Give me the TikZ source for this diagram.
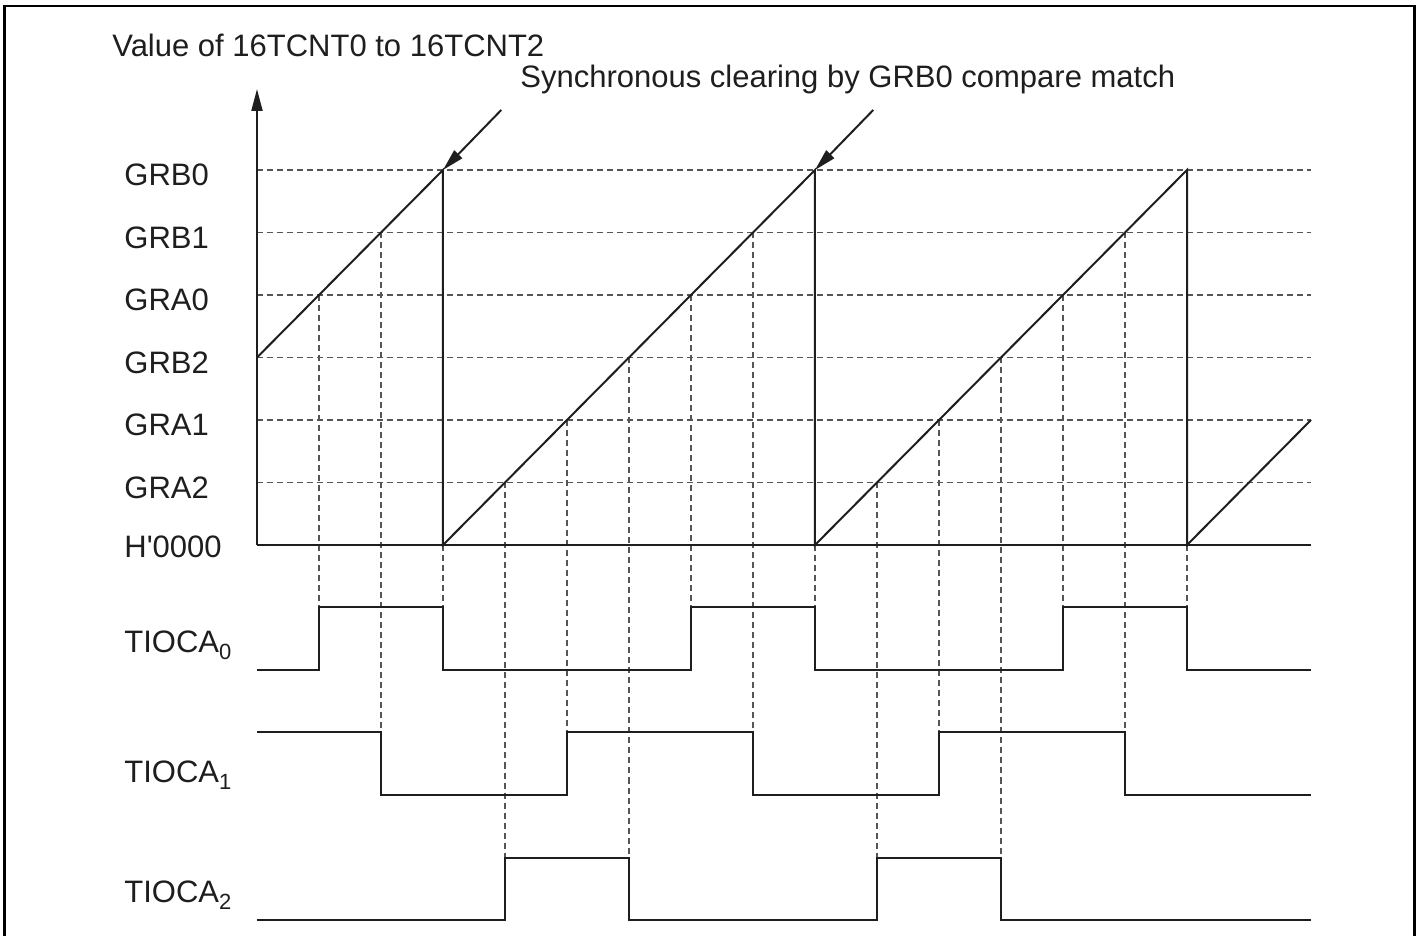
\documentclass[tikz,border=0pt]{standalone}
\usepackage{fontspec}
\setmainfont{Liberation Sans}
\usepackage{xcolor}
\usetikzlibrary{arrows.meta}
\definecolor{guidegray}{RGB}{85,85,85}
\definecolor{inkblack}{RGB}{30,30,30}
\newcommand{\pinsub}[1]{\raisebox{-3.5pt}{\fontsize{11}{12}\selectfont #1}}

\begin{document}
\begin{tikzpicture}[
        x=31pt, y=31.25pt,
        sig/.style={line width=1pt, draw=inkblack},
        guide/.style={draw=guidegray, line width=0.55pt, dash pattern=on 3pt off 2pt},
        lbl/.style={font=\fontsize{15.5}{18}\selectfont, text=inkblack,
                    inner sep=0pt, anchor=base west},
        arr/.style={-{Triangle[length=11pt,width=5.5pt]}, line width=1pt, draw=inkblack, fill=inkblack},
      ]
        \useasboundingbox (-4.145,-6.256) rectangle (18.742,8.72);
        \draw[line width=1.4pt] (-4.073,-6.5) -- (-4.073,8.624) -- (18.669,8.624) -- (18.669,-6.5);

        \node[lbl] (title) at (-2.339,7.813) {Value of 16TCNT0 to 16TCNT2};
        \node[lbl] (sync)  at (4.242,7.312) {Synchronous clearing by GRB0 compare match};

        \node[lbl] (grb0) at (-2.145,5.749) {GRB0};
        \node[lbl] (grb1) at (-2.145,4.749) {GRB1};
        \node[lbl] (gra0) at (-2.145,3.749) {GRA0};
        \node[lbl] (grb2) at (-2.145,2.749) {GRB2};
        \node[lbl] (gra1) at (-2.145,1.749) {GRA1};
        \node[lbl] (gra2) at (-2.145,0.749) {GRA2};
        \node[lbl] (zero) at (-2.145,-0.2)  {H\textquotesingle 0000};

        \node[lbl] (tioca0) at (-2.145,-1.728) {TIOCA\pinsub{0}};
        \node[lbl] (tioca1) at (-2.145,-3.803) {TIOCA\pinsub{1}};
        \node[lbl] (tioca2) at (-2.145,-5.723) {TIOCA\pinsub{2}};

        \draw[guide] (0,1) -- (17,1) (0,2) -- (17,2) (0,3) -- (17,3)
                     (0,4) -- (17,4) (0,5) -- (17,5) (0,6) -- (17,6);
        \draw[guide] (1,4) -- (1,-1) (2,5) -- (2,-3) (3,0) -- (3,-1)
                     (4,1) -- (4,-5) (5,2) -- (5,-3) (6,3) -- (6,-5)
                     (7,4) -- (7,-1) (8,5) -- (8,-3) (9,0) -- (9,-1)
                     (10,1) -- (10,-5) (11,2) -- (11,-3) (12,3) -- (12,-5)
                     (13,4) -- (13,-1) (14,5) -- (14,-3) (15,0) -- (15,-1);

        \coordinate (o) at (0,0);
        \draw[arr] (o) -- (0,7.296);
        \draw[sig] (o) -- (17,0);
        \draw[sig] (0,3) -- (3,6) coordinate (pk1) -- (3,0) -- (9,6) coordinate (pk2)
              -- (9,0) -- (15,6) -- (15,0) -- (17,2);
        \draw[arr] (3.94,6.96) -- (pk1);
        \draw[arr] (9.94,6.96) -- (pk2);

        \draw[sig] (0,-2) -- (1,-2) -- (1,-1) -- (3,-1) -- (3,-2) -- (7,-2) -- (7,-1)
              -- (9,-1) -- (9,-2) -- (13,-2) -- (13,-1) -- (15,-1) -- (15,-2) -- (17,-2);
        \draw[sig] (0,-3) -- (2,-3) -- (2,-4) -- (5,-4) -- (5,-3) -- (8,-3) -- (8,-4)
              -- (11,-4) -- (11,-3) -- (14,-3) -- (14,-4) -- (17,-4);
        \draw[sig] (0,-6) -- (4,-6) -- (4,-5) -- (6,-5) -- (6,-6) -- (10,-6) -- (10,-5)
              -- (12,-5) -- (12,-6) -- (17,-6);
      \end{tikzpicture}
\end{document}
